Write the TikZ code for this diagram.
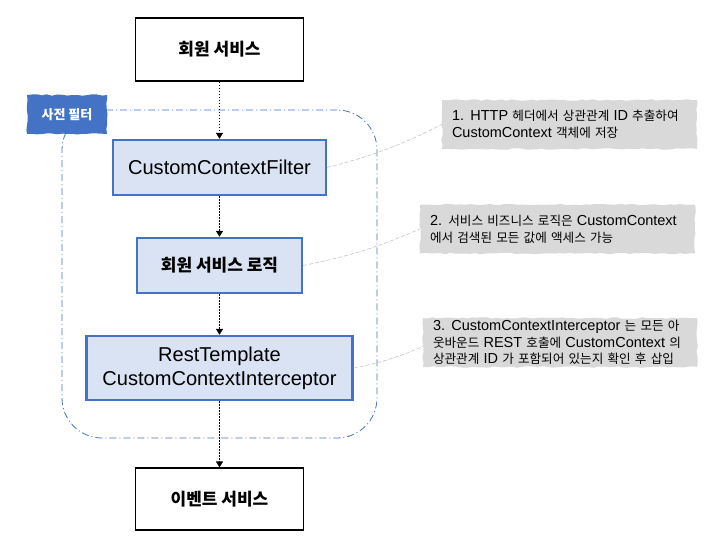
\documentclass[tikz,border=0pt]{standalone}
\usepackage{fontspec}
\setmainfont{Noto Sans CJK KR}
\newfontfamily\latinfont[Scale = 1.18]{Liberation Sans}
\newfontfamily\latinnotefont[Scale = 1.15]{Liberation Sans}
\newcommand{\engtext}[1]{{\latinfont #1}}
\newcommand{\engnote}[1]{{\latinnotefont #1}}
\usetikzlibrary{arrows.meta, decorations.pathmorphing}
\definecolor{blueBorder}{RGB}{68,114,196}
\definecolor{blueFill}{RGB}{218,227,243}
\definecolor{noteGray}{RGB}{217,217,217}
\definecolor{linkGray}{RGB}{196,196,196}

\begin{document}
\begin{tikzpicture}[x = 1pt, y = -1pt]
\pgfmathsetseed{7}
\useasboundingbox (0, 0) rectangle (714, 552);
\tikzstyle{serviceStyle} = [shape = rectangle, draw, line width = 1.2pt, minimum width = 168pt, minimum height = 63pt, font = \fontsize{17}{21}\selectfont\bfseries]
\tikzstyle{stepStyle} = [shape = rectangle, draw = blueBorder, fill = blueFill, line width = 2.4pt, minimum height = 55pt, align = center, font = \fontsize{17}{24}\selectfont]
\tikzstyle{regionStyle} = [shape = rectangle, draw = blueBorder, rounded corners = 40pt, line width = 0.8pt, dash pattern = on 7pt off 3pt on 1pt off 3pt, minimum width = 315pt, minimum height = 328pt]
\tikzstyle{tagStyle} = [shape = rectangle, fill = blueBorder, text = white, minimum width = 80pt, minimum height = 39pt, font = \fontsize{13}{15}\selectfont\bfseries, decorate, decoration = {random steps, segment length = 5pt, amplitude = 0.7pt}]
\tikzstyle{noteStyle} = [shape = rectangle, fill = noteGray, align = left, inner xsep = 10pt, inner ysep = 2pt, minimum height = 49pt, font = \fontsize{12.6}{17}\selectfont, decorate, decoration = {random steps, segment length = 5pt, amplitude = 0.8pt}]
\tikzstyle{flowStyle} = [line width = 1.4pt, dash pattern = on 1.5pt off 1.5pt, -{Triangle[length = 6pt, width = 7pt]}]
\tikzstyle{linkStyle} = [draw = linkGray, line width = 0.6pt, dash pattern = on 4pt off 2pt]
\node[regionStyle] (region) at (219.5, 274) {};
\node[tagStyle] (tag) at (67, 114.5) {사전 필터};
\node[serviceStyle] (member) at (219.5, 49.5) {회원 서비스};
\node[stepStyle, minimum width = 213pt] (filter) at (219.5, 167.5) {\engtext{CustomContextFilter}};
\node[stepStyle, minimum width = 165pt, font = \fontsize{17}{24}\selectfont\bfseries] (logic) at (219.5, 265.5) {회원 서비스 로직};
\node[stepStyle, minimum width = 266pt, minimum height = 64pt] (rest) at (219.5, 368) {\engtext{RestTemplate}\\\engtext{CustomContextInterceptor}};
\node[serviceStyle, minimum height = 62pt] (event) at (219.5, 499) {이벤트 서비스};
\node[noteStyle, minimum width = 255pt, text width = 235pt] (note1) at (569.5, 124.5) {\engnote{1. HTTP} 헤더에서 상관관계 \engnote{ID} 추출하여\\\engnote{CustomContext} 객체에 저장};
\node[noteStyle, minimum width = 275pt, text width = 255pt] (note2) at (557.5, 229) {\engnote{2.} 서비스 비즈니스 로직은 \engnote{CustomContext}\\에서 검색된 모든 값에 액세스 가능};
\node[noteStyle, minimum width = 274pt, text width = 254pt, font = \fontsize{12.6}{16.5}\selectfont] (note3) at (560, 342.5) {\engnote{3. CustomContextInterceptor} 는 모든 아\\웃바운드 \engnote{REST} 호출에 \engnote{CustomContext} 의\\상관관계 \engnote{ID} 가 포함되어 있는지 확인 후 삽입};
\draw[flowStyle] (member) -- (filter);
\draw[flowStyle] (filter) -- (logic);
\draw[flowStyle] (logic) -- (rest);
\draw[flowStyle] (rest) -- (event);
\draw[linkStyle] (filter.east) to[bend right = 6] (note1.west);
\draw[linkStyle] (logic.east) to[bend right = 6] (note2.west);
\draw[linkStyle] (rest.east) to[bend right = 6] ([yshift = -4pt] note3.west);
\end{tikzpicture}
\end{document}
